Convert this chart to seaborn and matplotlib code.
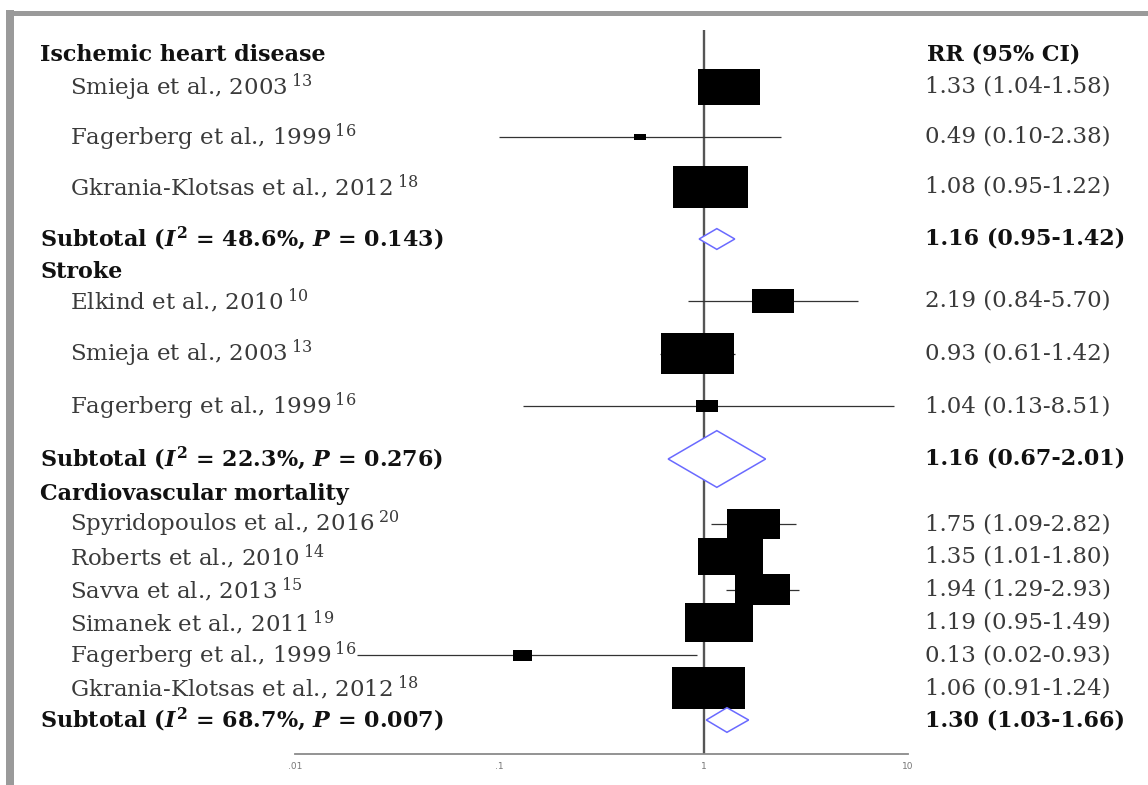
import matplotlib
matplotlib.use("Agg")
import numpy as np
import pandas as pd
import matplotlib.pyplot as plt
from matplotlib.path import Path
from matplotlib.patches import Rectangle, Polygon
import matplotlib.transforms as mtransforms
import seaborn as sns

# ---------------- data ----------------
section_names = ["Ischemic heart disease", "Stroke", "Cardiovascular mortality"]
study_section = [0, 0, 0, 1, 1, 1, 2, 2, 2, 2, 2, 2]
study_names = [
    "Smieja et al., 2003", "Fagerberg et al., 1999", "Gkrania-Klotsas et al., 2012",
    "Elkind et al., 2010", "Smieja et al., 2003", "Fagerberg et al., 1999",
    "Spyridopoulos et al., 2016", "Roberts et al., 2010", "Savva et al., 2013",
    "Simanek et al., 2011", "Fagerberg et al., 1999", "Gkrania-Klotsas et al., 2012",
]
study_refs = ["13", "16", "18", "10", "13", "16", "20", "14", "15", "19", "16", "18"]
study_rr = [1.33, 0.49, 1.08, 2.19, 0.93, 1.04, 1.75, 1.35, 1.94, 1.19, 0.13, 1.06]
study_lo = [1.04, 0.10, 0.95, 0.84, 0.61, 0.13, 1.09, 1.01, 1.29, 0.95, 0.02, 0.91]
study_hi = [1.58, 2.38, 1.22, 5.70, 1.42, 8.51, 2.82, 1.80, 2.93, 1.49, 0.93, 1.24]
study_weight = [38.4, 1.4, 54.8, 17.6, 53.3, 4.8, 28.1, 42.3, 30.3, 46.2, 3.6, 53.3]

subtotal_rr = [1.16, 1.16, 1.30]
subtotal_lo = [0.95, 0.67, 1.03]
subtotal_hi = [1.42, 2.01, 1.66]
subtotal_i2 = ["48.6", "22.3", "68.7"]
subtotal_p = ["0.143", "0.276", "0.007"]

x_ticks = [0.01, 0.1, 1, 10]
x_tick_labels = [".01", ".1", "1", "10"]

# ---------------- layout (pixels from top of figure) ----------------
W, H = 1148, 785
section_top = [55, 272, 494]
first_gap = [32, 29, 30]
row_step = [50, 52.5, 32.8]
subtotal_gap = [52, 53, 32]

study_y, subtotal_y = [], []
for s in range(len(section_names)):
    n = study_section.count(s)
    ys = [section_top[s] + first_gap[s] + i * row_step[s] for i in range(n)]
    study_y += ys
    subtotal_y.append(ys[-1] + subtotal_gap[s])

studies = pd.DataFrame({
    "name": study_names, "ref": study_refs, "rr": study_rr,
    "lo": study_lo, "hi": study_hi, "weight": study_weight, "y": study_y,
})

# ---------------- style ----------------
sns.set_theme(style="white")
serif = "DejaVu Serif"
plt.rcParams["font.family"] = [serif, "Liberation Serif"]
plt.rcParams["mathtext.fontset"] = "custom"
plt.rcParams["mathtext.rm"] = serif
plt.rcParams["mathtext.it"] = f"{serif}:italic:bold"
plt.rcParams["mathtext.bf"] = f"{serif}:bold"

fig = plt.figure(figsize=(W / 100, H / 100), dpi=100)
fig.patch.set_facecolor("white")

ax_left, ax_right, ax_top, ax_bottom = 295, 908, 30, 754
ax = fig.add_axes([ax_left / W, (H - ax_bottom) / H,
                   (ax_right - ax_left) / W, (ax_bottom - ax_top) / H])
ax.set_xscale("log")
ax.set_xlim(x_ticks[0], x_ticks[-1])
ax.set_ylim(ax_bottom, ax_top)
ax.set_facecolor("none")

# line of no effect
ax.axvline(1, color="#555555", lw=1.7, zorder=2)

# confidence intervals
ax.hlines(studies["y"], studies["lo"], studies["hi"], color="#333333", lw=0.9, zorder=3)

# weighted boxes (area proportional to study weight)
box_ratio = 1.76
rect = Path([(-1, -1 / box_ratio), (1, -1 / box_ratio), (1, 1 / box_ratio),
             (-1, 1 / box_ratio), (-1, -1 / box_ratio)],
            [Path.MOVETO, Path.LINETO, Path.LINETO, Path.LINETO, Path.CLOSEPOLY])
sns.scatterplot(data=studies, x="rr", y="y", size="weight", sizes=(0, 5184),
                size_norm=(0, 100), marker=rect, color="black", linewidth=0,
                legend=False, ax=ax, zorder=4)
ax.set_xlim(x_ticks[0], x_ticks[-1])
ax.set_ylim(ax_bottom, ax_top)

# pooled estimates as diamonds
fig.canvas.draw()
for rr, lo, hi, y in zip(subtotal_rr, subtotal_lo, subtotal_hi, subtotal_y):
    (x0, yd), (x1, _) = ax.transData.transform([(lo, y), (hi, y)])
    half_h = (x1 - x0) / 2 / 1.72
    _, y_top = ax.transData.inverted().transform((x0, yd + half_h))
    dh = abs(y - y_top)
    ax.add_patch(Polygon([(lo, y), (rr, y - dh), (hi, y), (rr, y + dh)],
                         closed=True, facecolor="white", edgecolor="#6a6aff",
                         lw=1.1, zorder=5))

# axis styling
for side in ["left", "right", "top"]:
    ax.spines[side].set_visible(False)
ax.spines["bottom"].set_color("#8a8a8a")
ax.spines["bottom"].set_linewidth(1.3)
ax.set_xticks(x_ticks)
ax.set_xticklabels(x_tick_labels, fontsize=6.5, color="#777777", family="DejaVu Sans")
ax.xaxis.set_minor_locator(matplotlib.ticker.NullLocator())
ax.tick_params(axis="x", direction="in", length=3, width=0.8, color="#8a8a8a", pad=6)
ax.set_yticks([])
ax.set_xlabel("")
ax.set_ylabel("")

# text columns
tf = mtransforms.blended_transform_factory(fig.transFigure, ax.transData)
x_head, x_study, x_est = 40 / W, 70 / W, 925 / W
fs_reg, fs_bold = 16.5, 16
txt_kw = dict(transform=tf, va="center", ha="left", clip_on=False)

ax.text(x_est + 2 / W, section_top[0], "RR (95% CI)", fontsize=fs_bold, fontweight="bold",
        color="#111111", **txt_kw)
for s, name in enumerate(section_names):
    ax.text(x_head, section_top[s], name, fontsize=fs_bold, fontweight="bold",
            color="#111111", **txt_kw)

for r in studies.itertuples():
    ax.text(x_study, r.y, rf"{r.name}$\,^{{{r.ref}}}$", fontsize=fs_reg, color="#3a3a3a",
            **txt_kw)
    ax.text(x_est, r.y, f"{r.rr:.2f} ({r.lo:.2f}-{r.hi:.2f})", fontsize=fs_reg,
            color="#3a3a3a", **txt_kw)

for s in range(len(section_names)):
    label = rf"Subtotal ($I^{{\mathbf{{2}}}}$ = {subtotal_i2[s]}%, $P$ = {subtotal_p[s]})"
    ax.text(x_head, subtotal_y[s], label, fontsize=fs_bold, fontweight="bold",
            color="#111111", **txt_kw)
    ax.text(x_est, subtotal_y[s],
            f"{subtotal_rr[s]:.2f} ({subtotal_lo[s]:.2f}-{subtotal_hi[s]:.2f})",
            fontsize=fs_bold, fontweight="bold", color="#111111", **txt_kw)

# window frame on the top and left edges
fig.add_artist(Rectangle((6 / W, 0), 8 / W, (H - 10) / H, transform=fig.transFigure,
                         facecolor="#9a9a9a", edgecolor="none"))
fig.add_artist(Rectangle((6 / W, (H - 16) / H), (W - 6) / W, 5 / H,
                         transform=fig.transFigure, facecolor="#9a9a9a", edgecolor="none"))

fig.savefig("out.png", dpi=100, facecolor="white")
